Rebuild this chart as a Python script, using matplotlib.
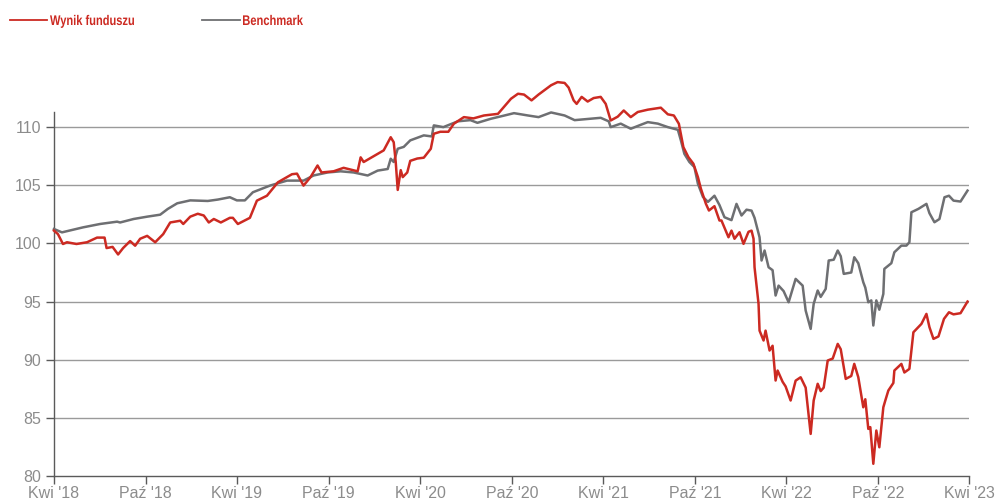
import pandas as pd
import matplotlib
matplotlib.use("Agg")
import matplotlib.pyplot as plt
from matplotlib.lines import Line2D
from matplotlib.textpath import TextPath
from matplotlib.patches import PathPatch
from matplotlib.font_manager import FontProperties
from matplotlib.transforms import Affine2D, IdentityTransform

fund_dates = [
    "2018-04-01", "2018-04-09", "2018-04-19", "2018-04-27", "2018-05-16", "2018-06-06",
    "2018-06-26", "2018-07-11", "2018-07-15", "2018-07-27", "2018-08-07", "2018-08-17",
    "2018-08-31", "2018-09-10", "2018-09-20", "2018-10-04", "2018-10-20", "2018-11-05",
    "2018-11-19", "2018-12-09", "2018-12-15", "2018-12-29", "2019-01-13", "2019-01-25",
    "2019-02-04", "2019-02-14", "2019-02-28", "2019-03-18", "2019-03-24", "2019-04-03",
    "2019-04-27", "2019-05-11", "2019-05-31", "2019-06-22", "2019-07-20", "2019-07-30",
    "2019-08-12", "2019-08-26", "2019-09-09", "2019-09-17", "2019-10-11", "2019-10-31",
    "2019-11-28", "2019-12-04", "2019-12-10", "2020-01-07", "2020-01-19", "2020-02-02",
    "2020-02-08", "2020-02-12", "2020-02-16", "2020-02-22", "2020-02-26", "2020-03-06",
    "2020-03-12", "2020-03-26", "2020-04-08", "2020-04-22", "2020-04-28", "2020-05-11",
    "2020-05-27", "2020-06-07", "2020-06-27", "2020-07-16", "2020-08-06", "2020-09-03",
    "2020-09-29", "2020-10-13", "2020-10-25", "2020-11-09", "2020-11-23", "2020-12-04",
    "2020-12-18", "2020-12-31", "2021-01-14", "2021-01-22", "2021-02-01", "2021-02-07",
    "2021-02-17", "2021-03-01", "2021-03-13", "2021-03-27", "2021-04-06", "2021-04-16",
    "2021-04-30", "2021-05-12", "2021-05-26", "2021-06-09", "2021-06-29", "2021-07-25",
    "2021-08-08", "2021-08-20", "2021-08-30", "2021-09-08", "2021-09-18", "2021-09-28",
    "2021-10-07", "2021-10-13", "2021-10-23", "2021-10-29", "2021-11-09", "2021-11-19",
    "2021-11-23", "2021-12-07", "2021-12-13", "2021-12-19", "2021-12-29", "2022-01-06",
    "2022-01-16", "2022-01-22", "2022-01-26", "2022-01-28", "2022-02-05", "2022-02-07",
    "2022-02-15", "2022-02-19", "2022-02-27", "2022-03-05", "2022-03-11", "2022-03-15",
    "2022-03-25", "2022-03-31", "2022-04-10", "2022-04-20", "2022-04-30", "2022-05-10",
    "2022-05-20", "2022-05-26", "2022-06-03", "2022-06-09", "2022-06-15", "2022-06-23",
    "2022-07-03", "2022-07-13", "2022-07-19", "2022-07-29", "2022-08-09", "2022-08-15",
    "2022-08-23", "2022-09-02", "2022-09-06", "2022-09-12", "2022-09-16", "2022-09-22",
    "2022-09-28", "2022-10-04", "2022-10-12", "2022-10-16", "2022-10-22", "2022-11-01",
    "2022-11-03", "2022-11-17", "2022-11-23", "2022-12-03", "2022-12-11", "2022-12-27",
    "2023-01-06", "2023-01-12", "2023-01-20", "2023-01-30", "2023-02-10", "2023-02-20",
    "2023-03-01", "2023-03-15", "2023-03-29",
]
fund_values = [
    101.1, 100.8, 99.95, 100.1, 99.95, 100.1,
    100.5, 100.5, 99.6, 99.7, 99.05, 99.6,
    100.2, 99.8, 100.4, 100.65, 100.1, 100.8,
    101.8, 101.95, 101.67, 102.3, 102.55, 102.4,
    101.8, 102.1, 101.8, 102.2, 102.2, 101.67,
    102.2, 103.68, 104.1, 105.26, 105.95, 106.0,
    104.97, 105.7, 106.7, 106.1, 106.2, 106.5,
    106.2, 107.4, 107.0, 107.7, 108.0, 109.13,
    108.7, 107.0, 104.6, 106.3, 105.7, 106.1,
    107.1, 107.3, 107.37, 108.14, 109.43, 109.6,
    109.6, 110.29, 110.86, 110.75, 111.0, 111.14,
    112.44, 112.87, 112.8, 112.3, 112.8, 113.15,
    113.6, 113.87, 113.8, 113.4, 112.3, 112.0,
    112.6, 112.2, 112.5, 112.6, 112.0, 110.57,
    110.9, 111.43, 110.86, 111.3, 111.5, 111.67,
    111.1, 111.0, 110.29, 108.28, 107.42, 106.85,
    105.7, 104.7, 103.4, 102.83, 103.2, 101.97,
    101.97, 100.53, 101.1, 100.4, 100.96, 99.96,
    101.0, 101.1, 100.4, 97.95, 94.8, 92.5,
    91.65, 92.5, 90.79, 91.2, 88.21, 89.07,
    88.1, 87.7, 86.49, 88.2, 88.49, 87.6,
    83.62, 86.49, 87.93, 87.3, 87.6, 89.93,
    90.1, 91.36, 90.9, 88.35, 88.6, 89.64,
    88.5, 85.91, 86.6, 84.05, 84.2, 81.05,
    83.91, 82.47, 85.91, 86.5, 87.35, 88.0,
    89.07, 89.64, 88.9, 89.21, 92.36, 93.08,
    93.94, 92.8, 91.79, 92.0, 93.51, 94.08,
    93.9, 94.0, 95.0,
]

bench_dates = [
    "2018-04-01", "2018-04-17", "2018-05-29", "2018-07-02", "2018-08-05", "2018-08-11",
    "2018-09-07", "2018-10-04", "2018-10-30", "2018-11-14", "2018-12-03", "2018-12-29",
    "2019-02-02", "2019-02-22", "2019-03-18", "2019-04-01", "2019-04-17", "2019-05-03",
    "2019-06-06", "2019-07-10", "2019-08-12", "2019-09-01", "2019-09-29", "2019-10-25",
    "2019-11-20", "2019-12-18", "2020-01-07", "2020-01-27", "2020-02-02", "2020-02-08",
    "2020-02-16", "2020-02-28", "2020-03-12", "2020-04-08", "2020-04-24", "2020-04-28",
    "2020-05-17", "2020-06-15", "2020-07-10", "2020-07-24", "2020-08-20", "2020-09-16",
    "2020-10-05", "2020-11-02", "2020-11-23", "2020-12-18", "2021-01-14", "2021-02-03",
    "2021-03-01", "2021-03-27", "2021-04-12", "2021-04-16", "2021-05-06", "2021-05-26",
    "2021-06-15", "2021-06-29", "2021-07-19", "2021-08-08", "2021-08-28", "2021-09-03",
    "2021-09-10", "2021-09-20", "2021-09-30", "2021-10-07", "2021-10-17", "2021-10-27",
    "2021-11-09", "2021-11-19", "2021-11-29", "2021-12-13", "2021-12-23", "2022-01-02",
    "2022-01-12", "2022-01-22", "2022-01-28", "2022-02-07", "2022-02-11", "2022-02-17",
    "2022-02-25", "2022-03-05", "2022-03-11", "2022-03-17", "2022-03-27", "2022-04-06",
    "2022-04-20", "2022-05-04", "2022-05-10", "2022-05-20", "2022-05-26", "2022-06-03",
    "2022-06-09", "2022-06-19", "2022-06-25", "2022-07-05", "2022-07-13", "2022-07-19",
    "2022-07-25", "2022-08-09", "2022-08-15", "2022-08-23", "2022-09-02", "2022-09-06",
    "2022-09-12", "2022-09-18", "2022-09-22", "2022-09-28", "2022-10-04", "2022-10-12",
    "2022-10-14", "2022-10-28", "2022-11-03", "2022-11-17", "2022-11-27", "2022-12-03",
    "2022-12-07", "2022-12-21", "2023-01-06", "2023-01-12", "2023-01-22", "2023-02-01",
    "2023-02-11", "2023-02-20", "2023-03-01", "2023-03-15", "2023-03-29",
]
bench_values = [
    101.24, 100.95, 101.38, 101.67, 101.87, 101.8,
    102.1, 102.3, 102.47, 102.96, 103.45, 103.7,
    103.65, 103.77, 103.97, 103.7, 103.7, 104.4,
    104.97, 105.4, 105.4, 105.84, 106.1, 106.2,
    106.1, 105.84, 106.26, 106.4, 107.28, 107.0,
    108.14, 108.3, 108.86, 109.29, 109.2, 110.15,
    110.0, 110.5, 110.6, 110.37, 110.72, 111.0,
    111.2, 111.0, 110.86, 111.26, 111.0, 110.6,
    110.7, 110.8, 110.5, 110.0, 110.3, 109.86,
    110.2, 110.43, 110.3, 110.0, 109.77, 108.86,
    107.7, 107.0, 106.56, 105.13, 104.0, 103.57,
    104.1, 103.3, 102.25, 102.0, 103.4, 102.4,
    102.9, 102.82, 102.2, 100.53, 98.53, 99.39,
    97.95, 97.7, 95.52, 96.37, 95.9, 94.94,
    96.95, 96.37, 94.23, 92.65, 94.8, 95.95,
    95.4, 96.09, 98.53, 98.6, 99.39, 98.9,
    97.38, 97.5, 98.81, 98.3, 96.66, 96.2,
    94.94, 95.1, 92.94, 95.1, 94.3, 95.66,
    97.81, 98.3, 99.24, 99.81, 99.81, 100.1,
    102.68, 102.97, 103.4, 102.6, 101.82, 102.1,
    103.97, 104.1, 103.68, 103.6, 104.54,
]

tick_dates = ["2018-04-01", "2018-10-01", "2019-04-01", "2019-10-01", "2020-04-01", "2020-10-01",
              "2021-04-01", "2021-10-01", "2022-04-01", "2022-10-01", "2023-04-01"]
tick_labels = ["Kwi '18", "Paź '18", "Kwi '19", "Paź '19", "Kwi '20", "Paź '20",
               "Kwi '21", "Paź '21", "Kwi '22", "Paź '22", "Kwi '23"]
y_ticks = [80, 85, 90, 95, 100, 105, 110]

RED = "#cc2a22"
GREY = "#6e6f72"
LABEL = "#8c8c8c"

plt.rcParams["font.family"] = ["Liberation Sans", "DejaVu Sans"]

fig = plt.figure(figsize=(9.99, 5.0), dpi=100)
ax = fig.add_axes([0.054, 0.048, 0.916, 0.728])

for y in y_ticks[1:]:
    ax.axhline(y, color="#9a9a9a", lw=1.0, zorder=1)

# lines run above the top of the axis in the original, so no clipping
ax.plot(pd.to_datetime(bench_dates), bench_values, color=GREY, lw=1.8, zorder=3, clip_on=False)
ax.plot(pd.to_datetime(fund_dates), fund_values, color=RED, lw=1.8, zorder=4, clip_on=False)

ax.set_xlim(pd.Timestamp("2018-04-01"), pd.Timestamp("2023-04-01"))
ax.set_ylim(80, 111.3)
ax.set_xticks(pd.to_datetime(tick_dates))
ax.set_xticklabels(tick_labels)
ax.set_yticks(y_ticks)

for side in ["top", "right"]:
    ax.spines[side].set_visible(False)
for side in ["left", "bottom"]:
    ax.spines[side].set_color("#5a5a5a")
    ax.spines[side].set_linewidth(1.0)

ax.tick_params(axis="both", colors="#5a5a5a", labelcolor=LABEL, labelsize=11.5, length=6, width=1.0)
ax.tick_params(axis="x", pad=1)
ax.tick_params(axis="y", pad=3)


def condensed_label(text, x0, baseline, width):
    # bold text squeezed sideways to look like a condensed face
    prop = FontProperties(family="Liberation Sans", weight="bold")
    tp = TextPath((0, 0), text, size=14, prop=prop)
    ext = tp.get_extents()
    sx = width / ext.width
    tr = Affine2D().translate(-ext.x0, 0).scale(sx, 1).translate(x0, baseline)
    fig.add_artist(PathPatch(tr.transform_path(tp), facecolor=RED, edgecolor="none",
                             transform=IdentityTransform()))


# legend drawn by hand at the top
fig.add_artist(Line2D([0.010, 0.047], [0.96, 0.96], color=RED, lw=1.3))
condensed_label("Wynik funduszu", 50, 475, 84)
fig.add_artist(Line2D([0.202, 0.240], [0.96, 0.96], color=GREY, lw=1.3))
condensed_label("Benchmark", 243, 475, 60)

fig.savefig("out.png", dpi=100)
